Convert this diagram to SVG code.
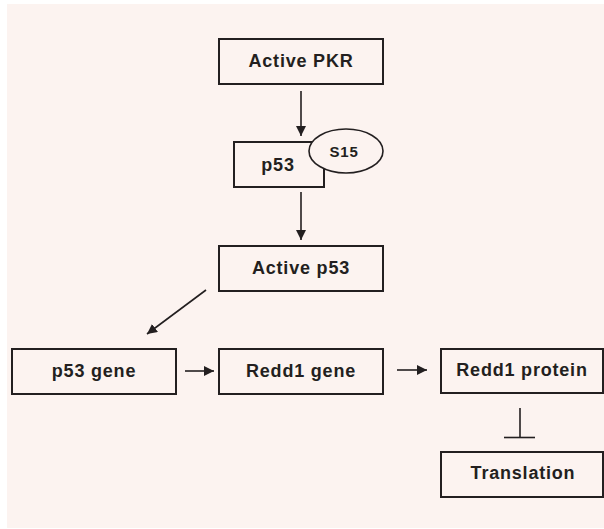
<svg xmlns="http://www.w3.org/2000/svg" width="604" height="529" viewBox="0 0 604 529">
<defs>
<marker id="ah" viewBox="0 0 10 10" refX="10" refY="5" markerWidth="10" markerHeight="10" markerUnits="userSpaceOnUse" orient="auto">
<path d="M0,0 L10,5 L0,10 z" fill="#231f20"/>
</marker>
</defs>
<style>
.box{fill:none;stroke:#231f20;stroke-width:2}
.lbl{font-family:"Liberation Sans",Arial,sans-serif;font-weight:bold;font-size:18px;fill:#231f20;text-anchor:middle;letter-spacing:0.8px}
.edge{stroke:#231f20;stroke-width:1.6;fill:none}
</style>
<rect x="0" y="0" width="604" height="529" fill="#ffffff"/>
<rect x="7" y="4" width="597" height="524" fill="#fcf3f0"/>
<g id="active-pkr"><rect class="box" x="219" y="39" width="164" height="45"/><text class="lbl" x="301" y="67">Active PKR</text></g>
<g id="p53"><rect class="box" x="234" y="142" width="90" height="45"/><text class="lbl" x="278" y="171">p53</text></g>
<g id="s15"><ellipse cx="346" cy="151" rx="37" ry="22" fill="#fcf3f0" stroke="#231f20" stroke-width="1.6"/><text class="lbl" x="344" y="157" style="font-size:15px">S15</text></g>
<g id="active-p53"><rect class="box" x="219" y="246" width="164" height="45"/><text class="lbl" x="301" y="274">Active p53</text></g>
<g id="p53-gene"><rect class="box" x="12" y="349" width="164" height="45"/><text class="lbl" x="94" y="377">p53 gene</text></g>
<g id="redd1-gene"><rect class="box" x="219" y="349" width="164" height="45"/><text class="lbl" x="301" y="377">Redd1 gene</text></g>
<g id="redd1-protein"><rect class="box" x="441" y="349" width="162" height="44"/><text class="lbl" x="522" y="376">Redd1 protein</text></g>
<g id="translation"><rect class="box" x="441" y="452" width="162" height="45"/><text class="lbl" x="523" y="479">Translation</text></g>
<g id="connectors">
<line class="edge" x1="301" y1="91" x2="301" y2="136" marker-end="url(#ah)"/>
<line class="edge" x1="301" y1="192" x2="301" y2="240" marker-end="url(#ah)"/>
<line class="edge" x1="206" y1="290" x2="147" y2="334" marker-end="url(#ah)"/>
<line class="edge" x1="185" y1="371" x2="214" y2="371" marker-end="url(#ah)"/>
<line class="edge" x1="397" y1="370" x2="427" y2="370" marker-end="url(#ah)"/>
<line class="edge" x1="520" y1="408" x2="520" y2="437"/>
<line class="edge" x1="504" y1="437.5" x2="535" y2="437.5" stroke-width="2"/>
</g>
</svg>
